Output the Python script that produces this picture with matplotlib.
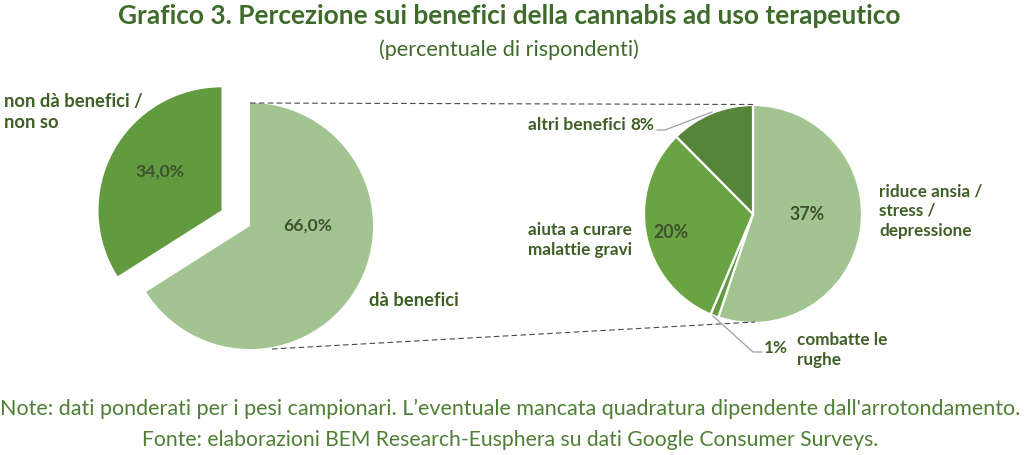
import matplotlib
matplotlib.use("Agg")
import matplotlib.pyplot as plt

W, H = 1024, 456
main_labels = ["dà benefici", "non dà benefici /\nnon so"]
main_values = [66.0, 34.0]
main_pct = ["66,0%", "34,0%"]
sub_labels = ["riduce ansia /\nstress /\ndepressione", "combatte le\nrughe", "aiuta a curare\nmalattie gravi", "altri benefici"]
sub_values = [36.4, 0.8, 20.6, 8.2]
sub_pct = ["37%", "1%", "20%", "8%"]
main_colors = ["#A2C490", "#629A3F"]
sub_colors = ["#A2C490", "#629A3F", "#69A342", "#55843A"]
DARK = "#3C5230"
LABEL = "#3F5F26"
TITLE = "#3F6B2A"
NOTE = "#4F7F35"

plt.rcParams['font.family'] = ['Lato', 'DejaVu Sans']
fig = plt.figure(figsize=(W/100, H/100), dpi=100)
ax = fig.add_axes([0, 0, 1, 1])

def Y(y):
    return H - y

ax.pie(main_values, colors=main_colors, center=(250, Y(227)), radius=123, startangle=90,
       counterclock=False, explode=[0, 32.5], frame=True,
       wedgeprops=dict(linewidth=0))
ax.pie(sub_values, colors=sub_colors, center=(753, Y(215)), radius=109, startangle=90,
       counterclock=False, frame=True, wedgeprops=dict(edgecolor="white", linewidth=1.6))
ax.set_xlim(0, W); ax.set_ylim(0, H); ax.set_aspect("equal"); ax.axis("off")

def line(xs, ys, **k):
    ax.plot(xs, [Y(v) for v in ys], **k)

dash = dict(color="#4A4A4A", lw=0.8, ls=(0, (5, 3)))
line([250, 753], [104, 105.5], **dash)
line([272, 755], [350, 323], **dash)
lead = dict(color="#A0A0A0", lw=0.9)
line([657, 665, 712], [131, 131, 113], **lead)
line([713, 753, 762], [317, 353, 353], **lead)

def t(x, y, s, size=12.3, color=LABEL, weight="bold", ha="left", va="center", **k):
    ax.text(x, Y(y), s, fontsize=size, color=color, fontweight=weight, ha=ha, va=va, **k)

t(509, 16, "Grafico 3. Percezione sui benefici della cannabis ad uso terapeutico", size=18.9, color=TITLE, ha="center")
t(509, 50, "(percentuale di rispondenti)", size=15.6, color=TITLE, weight="normal", ha="center")
t(4, 112, main_labels[1], size=13.2, linespacing=1.25)
t(369, 301, main_labels[0], size=13.2)
t(160, 172, main_pct[1], size=12.6, color=DARK, ha="center")
t(308, 226, main_pct[0], size=12.6, color=DARK, ha="center")
t(528, 125, sub_labels[3], size=12.6)
t(630, 125, sub_pct[3])
t(528, 240, sub_labels[2], linespacing=1.3)
t(671, 232, sub_pct[2], color=DARK, ha="center", size=12.8)
t(807, 214, sub_pct[0], color=DARK, ha="center", size=12.8)
t(879, 211, sub_labels[0], linespacing=1.3)
t(764, 348, sub_pct[1])
t(797, 350, sub_labels[1], linespacing=1.25)
t(510, 409, "Note: dati ponderati per i pesi campionari. L’eventuale mancata quadratura dipendente dall'arrotondamento.", size=15.5, color=NOTE, weight="normal", ha="center")
t(510, 440, "Fonte: elaborazioni BEM Research-Eusphera su dati Google Consumer Surveys.", size=15.2, color=NOTE, weight="normal", ha="center")
fig.savefig("out.png", dpi=100)
